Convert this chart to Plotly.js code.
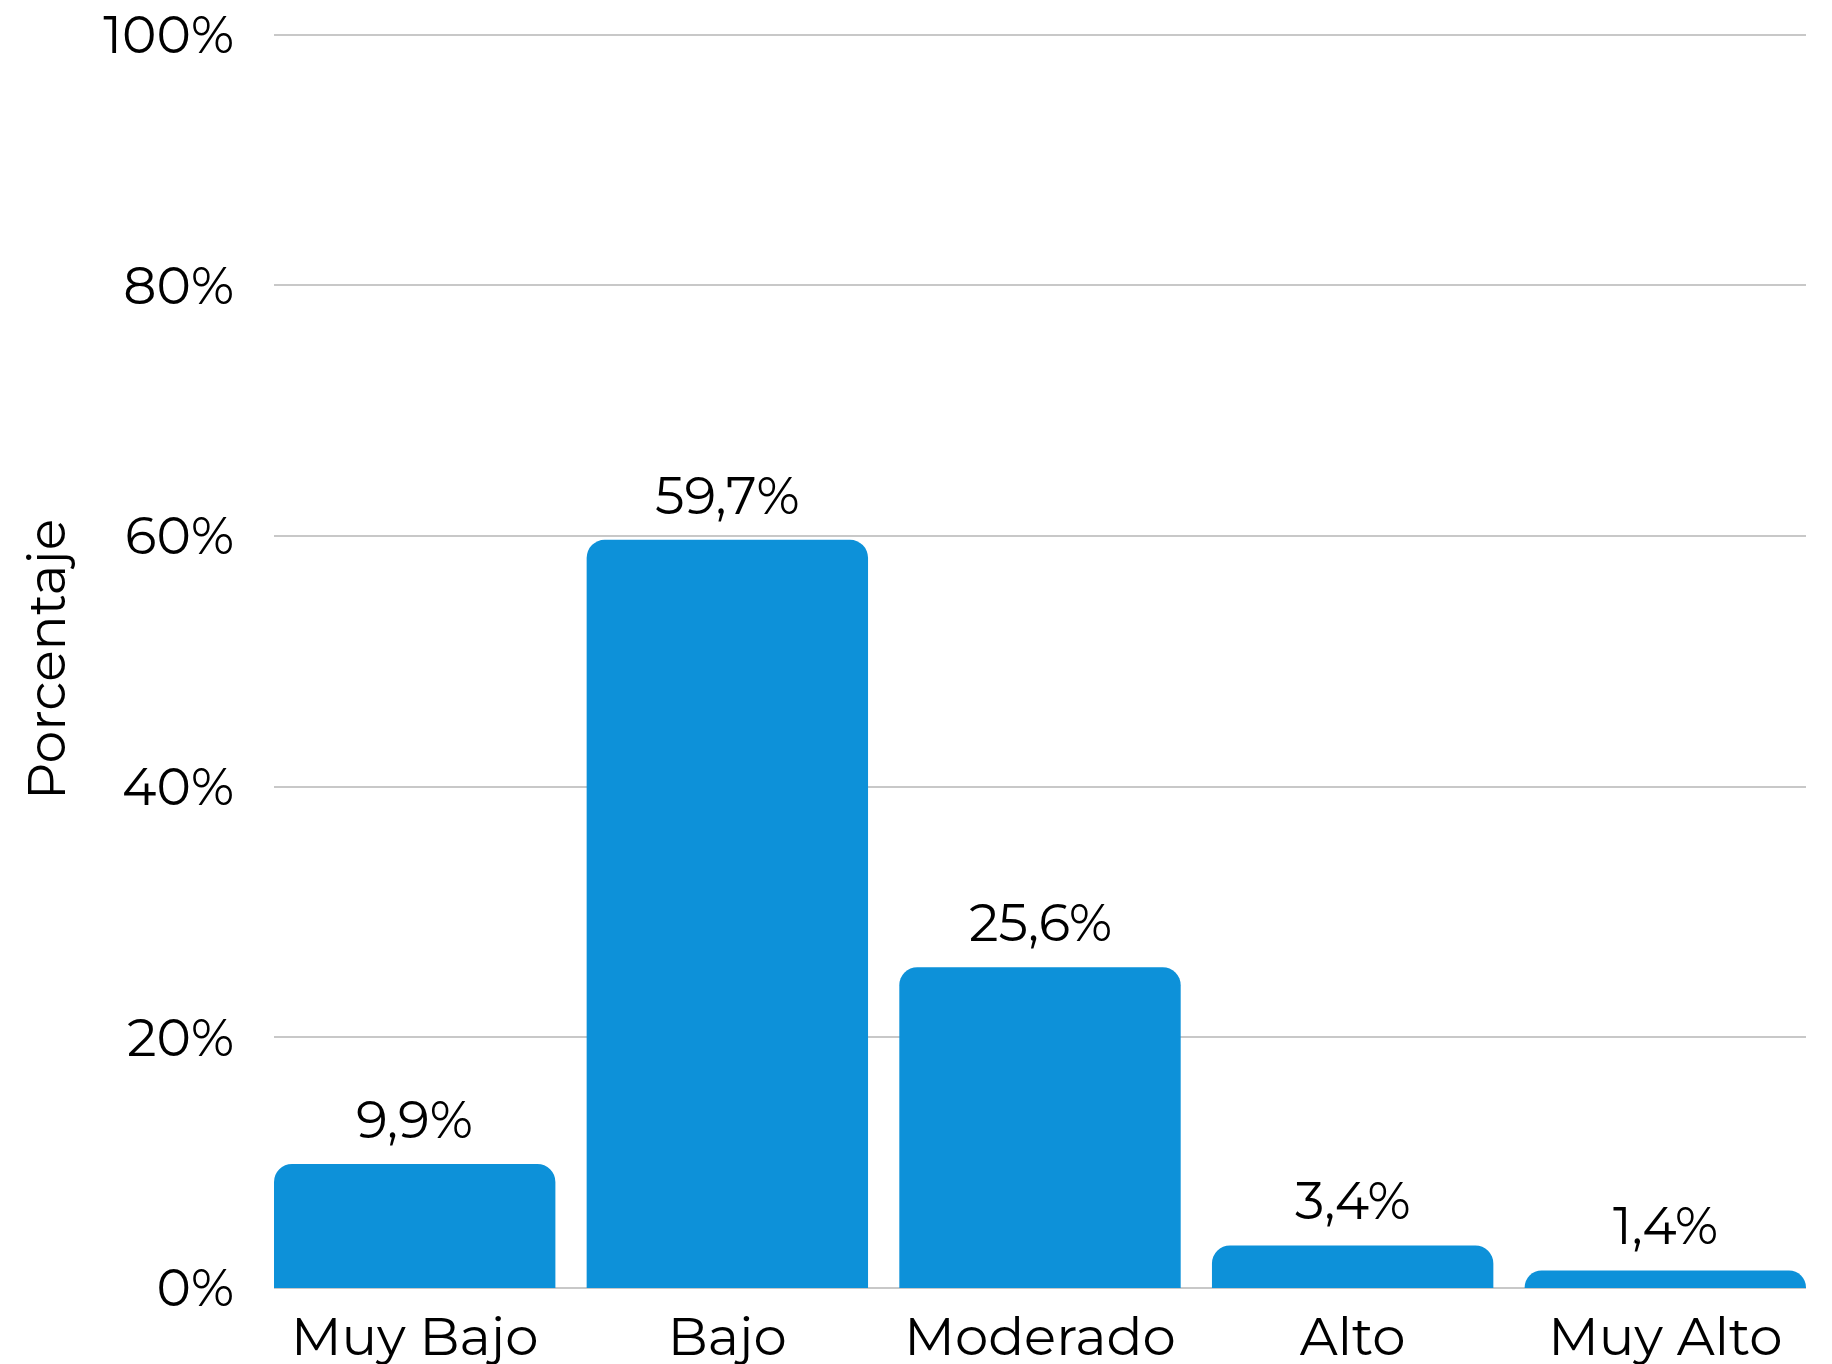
<!DOCTYPE html>
<html>
<head>
<meta charset="utf-8">
<script src="https://cdn.plot.ly/plotly-3.0.1.min.js"></script>
<style>html,body{margin:0;padding:0;background:#fff;}#chart{width:1832px;height:1364px;}</style>
</head>
<body>
<div id="chart"></div>
<script>
const categories = ["Muy Bajo", "Bajo", "Moderado", "Alto", "Muy Alto"];
const values = [9.9, 59.7, 25.6, 3.4, 1.4];
const tickValues = [0, 20, 40, 60, 80, 100];
const tickLabels = ["0%", "20%", "40%", "60%", "80%", "100%"];
const yTitle = "Porcentaje";

const FONT = "Montserrat, 'DejaVu Sans', sans-serif";
const labels = values.map(v => v.toFixed(1).replace('.', ',') + '%');

const trace = {
  type: 'bar',
  x: categories,
  y: values,
  marker: {color: 'rgb(13,145,217)', cornerradius: 18},
  hoverinfo: 'none'
};

const annotations = categories.map((c, i) => ({
  x: c, y: values[i], xref: 'x', yref: 'y',
  text: labels[i], showarrow: false,
  yanchor: 'bottom', yshift: 11,
  font: {family: FONT, size: 52, color: '#000'}
}));

const layout = {
  width: 1832, height: 1364,
  margin: {l: 274, r: 26, t: 31, b: 76},
  paper_bgcolor: '#fff', plot_bgcolor: '#fff',
  bargap: 0.1,
  showlegend: false,
  font: {family: FONT, color: '#000'},
  xaxis: {
    type: 'category',
    range: [-0.45, categories.length - 0.55],
    tickfont: {family: FONT, size: 53, color: '#000'},
    ticks: '', showgrid: false, showline: false, zeroline: false,
    ticklabelstandoff: 13, automargin: false
  },
  yaxis: {
    range: [0, 100.3],
    tickmode: 'array',
    tickvals: tickValues,
    ticktext: tickLabels,
    tickfont: {family: FONT, size: 52, color: '#000'},
    ticks: '', showline: false,
    gridcolor: '#c8c8c8', gridwidth: 2,
    zeroline: true, zerolinecolor: '#c8c8c8', zerolinewidth: 2,
    ticklabelstandoff: 39, automargin: false,
    title: {text: yTitle, font: {family: FONT, size: 52, color: '#000'}, standoff: 21}
  },
  annotations: annotations
};

Plotly.newPlot('chart', [trace], layout, {displayModeBar: false, staticPlot: true});
</script>
</body>
</html>
